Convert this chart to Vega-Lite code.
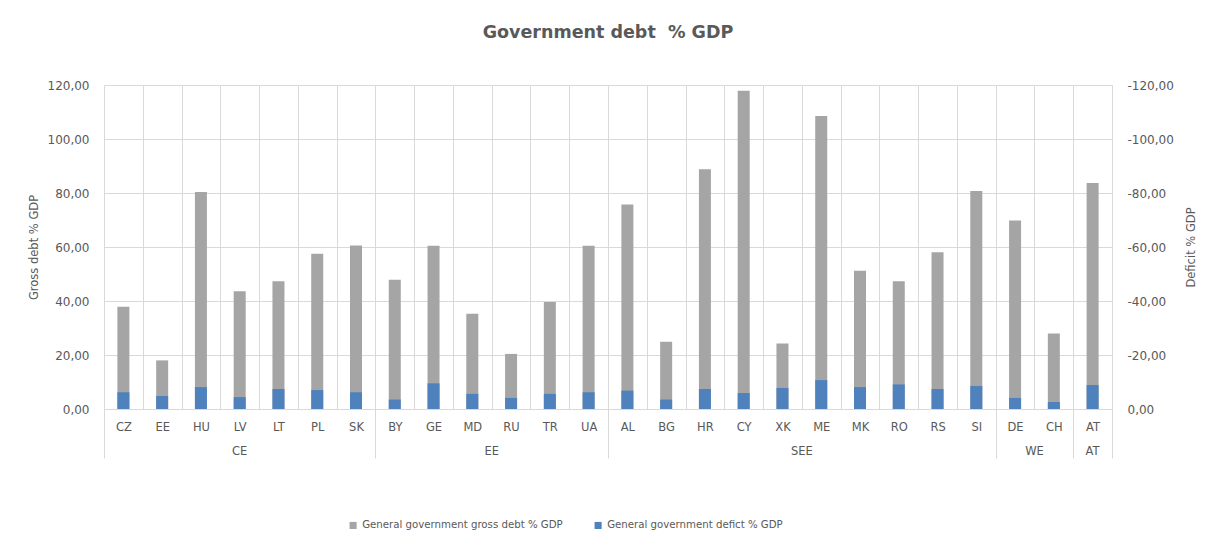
{
  "$schema": "https://vega.github.io/schema/vega-lite/v6.json",
  "width": 1008,
  "height": 324,
  "autosize": {"type": "none"},
  "padding": {"left": 104, "top": 85, "right": 102, "bottom": 136},
  "background": "white",
  "title": {
    "text": "Government debt \u00a0% GDP",
    "font": "DejaVu Sans",
    "fontSize": 17.5,
    "fontWeight": "bold",
    "color": "#595959",
    "anchor": "middle",
    "offset": 38
  },
  "config": {
    "view": {"stroke": null},
    "font": "DejaVu Sans"
  },
  "data": {
    "values": [
      {"country": "CZ", "region": "CE", "debt": 37.9, "deficit": -6.2},
      {"country": "EE", "region": "CE", "debt": 18.0, "deficit": -4.8},
      {"country": "HU", "region": "CE", "debt": 80.4, "deficit": -8.1},
      {"country": "LV", "region": "CE", "debt": 43.6, "deficit": -4.4},
      {"country": "LT", "region": "CE", "debt": 47.3, "deficit": -7.4},
      {"country": "PL", "region": "CE", "debt": 57.5, "deficit": -7.0},
      {"country": "SK", "region": "CE", "debt": 60.6, "deficit": -6.2},
      {"country": "BY", "region": "EE", "debt": 47.9, "deficit": -3.5},
      {"country": "GE", "region": "EE", "debt": 60.5, "deficit": -9.5},
      {"country": "MD", "region": "EE", "debt": 35.3, "deficit": -5.6},
      {"country": "RU", "region": "EE", "debt": 20.4, "deficit": -4.1},
      {"country": "TR", "region": "EE", "debt": 39.6, "deficit": -5.6},
      {"country": "UA", "region": "EE", "debt": 60.5, "deficit": -6.2},
      {"country": "AL", "region": "SEE", "debt": 75.7, "deficit": -6.8},
      {"country": "BG", "region": "SEE", "debt": 24.9, "deficit": -3.5},
      {"country": "HR", "region": "SEE", "debt": 88.8, "deficit": -7.4},
      {"country": "CY", "region": "SEE", "debt": 117.9, "deficit": -5.9},
      {"country": "XK", "region": "SEE", "debt": 24.3, "deficit": -7.8},
      {"country": "ME", "region": "SEE", "debt": 108.5, "deficit": -10.7},
      {"country": "MK", "region": "SEE", "debt": 51.2, "deficit": -8.1},
      {"country": "RO", "region": "SEE", "debt": 47.3, "deficit": -9.1},
      {"country": "RS", "region": "SEE", "debt": 58.1, "deficit": -7.4},
      {"country": "SI", "region": "SEE", "debt": 80.7, "deficit": -8.5},
      {"country": "DE", "region": "WE", "debt": 69.8, "deficit": -4.1},
      {"country": "CH", "region": "WE", "debt": 28.0, "deficit": -2.6},
      {"country": "AT", "region": "AT", "debt": 83.7, "deficit": -8.9}
    ]
  },
  "layer": [
    {
      "mark": {"type": "bar", "size": 12},
      "encoding": {
        "x": {
          "field": "country",
          "type": "nominal",
          "sort": ["CZ","EE","HU","LV","LT","PL","SK","BY","GE","MD","RU","TR","UA","AL","BG","HR","CY","XK","ME","MK","RO","RS","SI","DE","CH","AT"],
          "scale": {"paddingInner": 0, "paddingOuter": 0},
          "axis": {
            "title": null,
            "orient": "bottom",
            "tickBand": "extent",
            "grid": true,
            "gridColor": "#D9D9D9",
            "ticks": true,
            "tickSize": 49,
            "tickColor": "#D9D9D9",
            "tickOpacity": {
              "condition": {"test": "datum.extra || indexof(['SK','UA','SI','CH','AT'], datum.value) >= 0", "value": 1},
              "value": 0
            },
            "domainColor": "#D9D9D9",
            "labelAngle": 0,
            "labelBaseline": "top",
            "labelPadding": -37,
            "labelFontSize": 11.5,
            "labelColor": "#595959"
          }
        },
        "y": {
          "field": "debt",
          "type": "quantitative",
          "scale": {"domain": [0, 120], "nice": false},
          "axis": {
            "title": "Gross debt % GDP",
            "values": [0, 20, 40, 60, 80, 100, 120],
            "labelExpr": "replace(format(datum.value, '.2f'), '.', ',')",
            "domain": false,
            "ticks": false,
            "gridColor": "#D9D9D9",
            "labelPadding": 15,
            "labelFontSize": 12,
            "labelColor": "#595959",
            "titleFontSize": 11.5,
            "titleFontWeight": "normal",
            "titleColor": "#595959",
            "titlePadding": 8
          }
        },
        "color": {
          "datum": "General government gross debt % GDP",
          "type": "nominal",
          "scale": {
            "domain": ["General government gross debt % GDP", "General government defict % GDP"],
            "range": ["#A5A5A5", "#4F81BD"]
          },
          "legend": {
            "title": null,
            "orient": "none",
            "legendX": 244,
            "legendY": 435,
            "direction": "horizontal",
            "symbolType": "square",
            "symbolSize": 50,
            "symbolStrokeWidth": 0,
            "labelFontSize": 10.2,
            "labelColor": "#595959",
            "labelLimit": 0,
            "columnPadding": 30
          }
        }
      }
    },
    {
      "mark": {"type": "bar", "size": 12},
      "encoding": {
        "x": {
          "field": "country",
          "type": "nominal",
          "sort": ["CZ","EE","HU","LV","LT","PL","SK","BY","GE","MD","RU","TR","UA","AL","BG","HR","CY","XK","ME","MK","RO","RS","SI","DE","CH","AT"],
          "axis": {
            "title": null,
            "orient": "bottom",
            "domain": false,
            "ticks": false,
            "grid": false,
            "labelAngle": 0,
            "labelBaseline": "top",
            "labelPadding": 36,
            "labelFontSize": 11.5,
            "labelColor": "#595959",
            "labelExpr": "datum.value == 'LV' ? 'CE' : datum.value == 'MD' ? 'EE' : datum.value == 'XK' ? 'SEE' : datum.value == 'DE' ? 'WE' : datum.value == 'AT' ? 'AT' : ''",
            "labelOffset": {
              "condition": {"test": "indexof(['MD','XK','DE'], datum.value) >= 0", "value": 19.4},
              "value": 0
            }
          }
        },
        "y": {
          "field": "deficit",
          "type": "quantitative",
          "scale": {"domain": [-120, 0], "reverse": true, "nice": false},
          "axis": {
            "orient": "right",
            "title": "Deficit % GDP",
            "grid": false,
            "values": [0, -20, -40, -60, -80, -100, -120],
            "labelExpr": "(datum.value < 0 ? '-' : '') + replace(format(abs(datum.value), '.2f'), '.', ',')",
            "domain": false,
            "ticks": false,
            "labelPadding": 15,
            "labelFontSize": 12,
            "labelColor": "#595959",
            "titleFontSize": 11.5,
            "titleFontWeight": "normal",
            "titleColor": "#595959",
            "titleAngle": 270,
            "titleBaseline": "top",
            "titlePadding": 12
          }
        },
        "color": {
          "datum": "General government defict % GDP",
          "type": "nominal"
        }
      }
    }
  ],
  "resolve": {
    "scale": {"y": "independent"},
    "axis": {"x": "independent"}
  }
}
